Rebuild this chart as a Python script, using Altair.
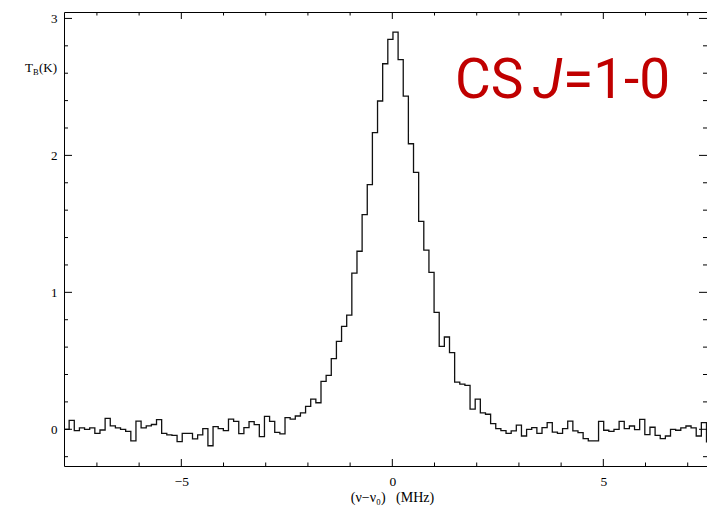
import altair as alt
import pandas as pd
import numpy as np

# Spectrum channels: start frequency (MHz) of the first channel and channel width
chan_start = -7.78
chan_width = 0.1218

# Brightness temperature per channel (K)
tb = [
    0.00, 0.065, -0.01, 0.01, 0.00, 0.01, -0.03, -0.005, 0.08, 0.025,
    0.01, 0.00, -0.015, -0.085, 0.06, 0.01, 0.025, 0.035, 0.07, -0.03,
    -0.04, -0.045, -0.09, -0.03, -0.03, -0.07, -0.04, 0.005, -0.12, 0.02,
    0.005, -0.01, 0.075, 0.058, -0.032, 0.012, 0.056, 0.034, -0.053, 0.095,
    0.058, -0.022, -0.034, 0.085, 0.075, 0.097, 0.12, 0.168, 0.221, 0.194,
    0.35, 0.394, 0.516, 0.642, 0.752, 0.834, 1.141, 1.30, 1.567, 1.786,
    2.166, 2.397, 2.669, 2.847, 2.90, 2.699, 2.433, 2.085, 1.876, 1.518,
    1.309, 1.146, 0.854, 0.606, 0.674, 0.56, 0.345, 0.33, 0.32, 0.148,
    0.221, 0.12, 0.11, 0.041, 0.005, -0.01, -0.03, -0.012, 0.03, -0.049,
    0.0, 0.012, -0.03, 0.012, 0.049, -0.02, -0.03, 0.005, 0.06, -0.012,
    -0.024, -0.068, -0.085, -0.085, 0.058, -0.007, -0.015, 0.0, 0.058, 0.005,
    0.024, -0.002, 0.073, -0.039, 0.015, -0.044, -0.068, -0.049, 0.0, -0.007,
    0.01, 0.024, 0.01, -0.049, 0.049, -0.092, -0.024,
]

x_major = [-5, 0, 5]
x_minor = [-7, -6, -4, -3, -2, -1, 1, 2, 3, 4, 6, 7]
y_major = [0, 1, 2, 3]
y_minor = [-0.2, 0.2, 0.4, 0.6, 0.8, 1.2, 1.4, 1.6, 1.8, 2.2, 2.4, 2.6, 2.8]

x_domain = [-7.78, 7.457]
y_domain = [-0.268, 3.047]

W, H = 643, 454
SERIF = "Liberation Serif"

freq = chan_start + chan_width * np.arange(len(tb) + 1)
spec = pd.DataFrame({"f": freq, "t": tb + [tb[-1]]})

xs = alt.Scale(domain=x_domain, nice=False, zero=False)
ys = alt.Scale(domain=y_domain, nice=False, zero=False)

line = alt.Chart(spec).mark_line(
    interpolate="step-after", color="#111111", strokeWidth=1.3, clip=True
).encode(
    x=alt.X("f:Q", scale=xs, axis=alt.Axis(
        values=x_major, format="d", ticks=False, domain=False, grid=False,
        labelPadding=8, labelFont=SERIF, labelFontSize=13.5, labelColor="black",
        title="(ν−ν₀)\u00a0\u00a0\u00a0(MHz)", titleFont=SERIF, titleFontSize=14,
        titleFontWeight="normal", titleColor="black",
        titleX=328, titleY=31, titleAlign="center", titleBaseline="middle",
    )),
    y=alt.Y("t:Q", scale=ys, axis=alt.Axis(
        values=y_major, format="d", ticks=False, domain=False, grid=False,
        labelPadding=7, labelFont=SERIF, labelFontSize=13, labelColor="black",
        title=None,
    )),
)

xmaj = pd.DataFrame({"v": x_major})
xmin = pd.DataFrame({"v": x_minor})
ymaj = pd.DataFrame({"v": y_major})
ymin = pd.DataFrame({"v": y_minor})


def xticks(df, length):
    bottom = alt.Chart(df).mark_rule(color="black", strokeWidth=1).encode(
        x=alt.X("v:Q", scale=xs, axis=None), y=alt.value(H), y2=alt.value(H - length))
    top = alt.Chart(df).mark_rule(color="black", strokeWidth=1).encode(
        x=alt.X("v:Q", scale=xs, axis=None), y=alt.value(0), y2=alt.value(length))
    return [bottom, top]


def yticks(df, length):
    left = alt.Chart(df).mark_rule(color="black", strokeWidth=1).encode(
        y=alt.Y("v:Q", scale=ys, axis=None), x=alt.value(0), x2=alt.value(length))
    right = alt.Chart(df).mark_rule(color="black", strokeWidth=1).encode(
        y=alt.Y("v:Q", scale=ys, axis=None), x=alt.value(W), x2=alt.value(W - length))
    return [left, right]


dummy = pd.DataFrame({"a": [0]})


def label(text, x, y, size, font, color="black", style="normal", align="left"):
    return alt.Chart(dummy).mark_text(
        font=font, fontSize=size, color=color, fontStyle=style,
        align=align, baseline="alphabetic",
    ).encode(text=alt.value(text), x=alt.value(x), y=alt.value(y))


ylabel = [
    label("T", -39, 60, 13, SERIF),
    label("B", -31, 62.5, 8.5, SERIF),
    label("(K)", -25, 60, 13, SERIF),
]

RED = "#C00000"
SANS = "Roboto"
title_pieces = [
    label("CS", 391, 86, 55, SANS, RED),
    label("J", 469, 86, 55, SANS, RED, style="italic"),
    label("=1-0", 499, 86, 55, SANS, RED),
]

layers = [line] + xticks(xmaj, 7) + xticks(xmin, 3.5) + yticks(ymaj, 8) + yticks(ymin, 4) + ylabel + title_pieces

chart = alt.layer(*layers).resolve_axis(x="independent", y="independent").properties(
    width=W, height=H,
    autosize=alt.AutoSizeParams(type="none"),
    padding={"left": 56, "top": 4, "right": 0, "bottom": 44},
    background="white",
).configure_view(stroke="black", strokeWidth=1)

chart.save("out.html", embed_options={"renderer": "svg", "actions": False})
